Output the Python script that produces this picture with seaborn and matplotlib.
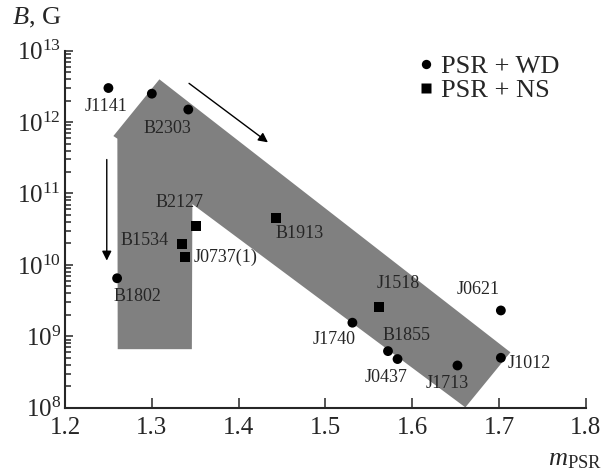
import numpy as np
import pandas as pd
import seaborn as sns
import matplotlib
matplotlib.use("Agg")
import matplotlib.pyplot as plt

# pulsar masses and magnetic fields
wd_names = ["J1141", "", "B2303", "B1802", "J1740", "B1855", "J0437", "J1713", "J1012", "J0621"]
wd_mass = [1.25, 1.30, 1.342, 1.260, 1.531, 1.572, 1.583, 1.652, 1.702, 1.702]
wd_field = [3.0e12, 2.5e12, 1.5e12, 6.5e9, 1.55e9, 6.2e8, 4.8e8, 3.9e8, 5.0e8, 2.3e9]

ns_names = ["B2127", "B1534", "J0737(1)", "B1913", "J1518"]
ns_mass = [1.351, 1.335, 1.338, 1.443, 1.562]
ns_field = [3.5e10, 1.96e10, 1.28e10, 4.5e10, 2.6e9]

# shaded evolution band (mass, field)
band_mass = [1.2607, 1.2603, 1.2557, 1.3087, 1.7130, 1.6611, 1.3467, 1.3461]
band_field = [6.6e8, 5.86e11, 6.38e11, 3.97e12, 5.97e8, 1.01e8, 7.1e10, 6.6e8]

sns.set_style("ticks")
plt.rcParams["font.family"] = ["Liberation Serif", "DejaVu Serif"]
plt.rcParams["mathtext.fontset"] = "custom"
plt.rcParams["mathtext.rm"] = "Liberation Serif"
plt.rcParams["mathtext.it"] = "Liberation Serif:italic"

df = pd.DataFrame({
    "m": wd_mass + ns_mass,
    "B": wd_field + ns_field,
    "name": wd_names + ns_names,
    "type": ["PSR + WD"] * len(wd_mass) + ["PSR + NS"] * len(ns_mass),
})

fig = plt.figure(figsize=(6.11, 4.76), dpi=100)
ax = fig.add_axes([0.1064, 0.1435, 0.8526, 0.75])

ax.fill(band_mass, band_field, color="#808080", lw=0, zorder=1)

sns.scatterplot(data=df, x="m", y="B", style="type",
                markers={"PSR + WD": "o", "PSR + NS": "s"},
                color="black", s=50, edgecolor="none", ax=ax, zorder=3)

# label offsets in pixels from each point
offsets = {
    "J1141": (-2, -18, "center"), "B2303": (-21, -19, "center"),
    "B2127": (-17, 24, "center"), "B1534": (-38, 4, "center"),
    "J0737(1)": (9, 0, "left"), "B1802": (20, -18, "center"),
    "B1913": (24, -15, "center"), "J1518": (19, 23, "center"),
    "J0621": (-23, 21, "center"), "J1740": (-18, -17, "center"),
    "B1855": (19, 16, "center"), "J0437": (-11, -18, "center"),
    "J1713": (-10, -18, "center"), "J1012": (7, -6, "left"),
}
for _, row in df.iterrows():
    if row["name"] == "":
        continue
    dx, dy, ha = offsets[row["name"]]
    ax.annotate(row["name"], (row["m"], row["B"]), xytext=(dx, dy),
                textcoords="offset pixels", ha=ha, va="center", fontsize=13)

# arrows
ax.annotate("", xy=(1.4363, 4.93e11), xytext=(1.3403, 3.68e12),
            arrowprops=dict(arrowstyle="-|>", color="black", lw=1, mutation_scale=14))
ax.annotate("", xy=(1.2481, 1.05e10), xytext=(1.2481, 3.27e11),
            arrowprops=dict(arrowstyle="-|>", color="black", lw=1, mutation_scale=14))

ax.set_yscale("log")
ax.set_xlim(1.2, 1.8)
ax.set_ylim(1e8, 1e13)
ax.set_xticks([1.2, 1.3, 1.4, 1.5, 1.6, 1.7, 1.8])
ax.set_xlabel("")
ax.set_ylabel("")
sns.despine(ax=ax)
for s in ["left", "bottom"]:
    ax.spines[s].set_linewidth(1.5)
ax.tick_params(axis="x", which="major", direction="in", length=7, width=1.1,
               labelsize=18, pad=7)
ax.tick_params(axis="y", which="major", direction="in", length=6, width=1.1,
               labelsize=18, pad=3)
ax.tick_params(axis="y", which="minor", direction="in", length=4.5, width=1.1)

leg = ax.legend(loc="upper left", bbox_to_anchor=(0.679, 0.99), frameon=False,
                fontsize=19, handlelength=0.55, handletextpad=0.3,
                labelspacing=0.02, borderaxespad=0, borderpad=0,
                markerscale=0.95)

fig.text(0.0606, 0.962, r"$B$, G", ha="center", va="center", fontsize=19)
fig.text(0.941, 0.034, r"$m_{\rm PSR}$", ha="center", va="center", fontsize=19)

fig.savefig("out.png", dpi=100)
